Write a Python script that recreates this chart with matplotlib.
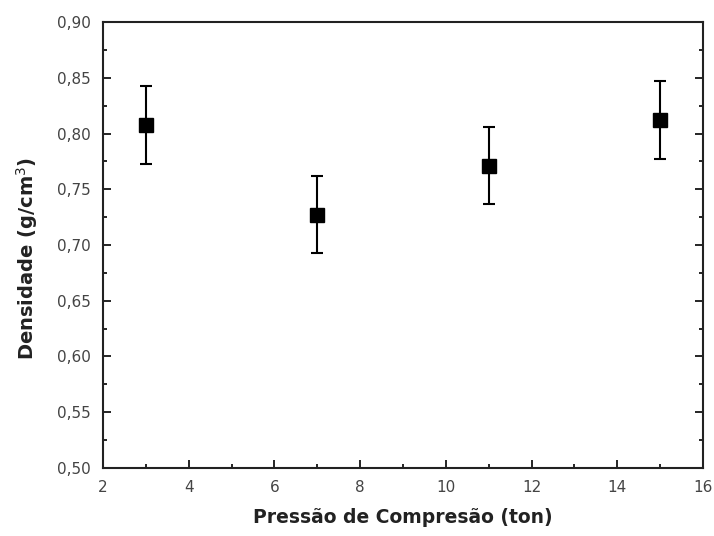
import numpy as np
import matplotlib.pyplot as plt
from matplotlib.ticker import MultipleLocator, FuncFormatter

# pressure (ton) vs density (g/cm3)
pressao = [3, 7, 11, 15]
densidade = [0.808, 0.727, 0.771, 0.812]
erro = [0.035, 0.0345, 0.0345, 0.035]

plt.rcParams['font.family'] = ['DejaVu Sans']

fig = plt.figure(figsize=(7.14, 5.36), dpi=100)
ax = fig.add_axes([103 / 714, 1 - 468 / 536, 600 / 714, 446 / 536])

ax.errorbar(pressao, densidade, yerr=erro, fmt='s', color='black',
            markersize=10.5, capsize=4.5, elinewidth=1.5, capthick=1.5)

ax.set_xlim(2, 16)
ax.set_ylim(0.50, 0.90)
ax.xaxis.set_major_locator(MultipleLocator(2))
ax.xaxis.set_minor_locator(MultipleLocator(1))
ax.yaxis.set_major_locator(MultipleLocator(0.05))
ax.yaxis.set_minor_locator(MultipleLocator(0.025))
ax.yaxis.set_major_formatter(FuncFormatter(lambda v, p: f'{v:.2f}'.replace('.', ',')))

ax.tick_params(which='both', direction='in', left=True, right=True, bottom=True, top=False,
               labelsize=11, labelcolor='#444444', width=1.2)
ax.tick_params(which='major', length=6, pad=9)
ax.tick_params(which='minor', length=3)
for s in ax.spines.values():
    s.set_linewidth(1.5)
    s.set_color('#222222')

ax.set_xlabel('Pressão de Compresão (ton)', fontsize=13.5, fontweight='bold',
              labelpad=9, color='#222222')
ax.set_ylabel('Densidade (g/cm$^3$)', fontsize=14, fontweight='bold', color='#222222')
ax.yaxis.set_label_coords(-0.105, 0.47)

fig.savefig('out.png', dpi=100)
